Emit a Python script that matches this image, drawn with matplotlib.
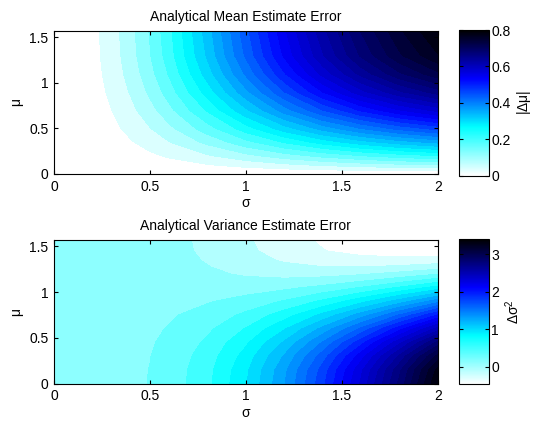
import numpy as np
import matplotlib
matplotlib.use("Agg")
from matplotlib import pyplot as plt
from matplotlib.colors import LinearSegmentedColormap, Normalize
from matplotlib.cm import ScalarMappable

plt.rcParams['font.family'] = ['Liberation Sans', 'DejaVu Sans']
plt.rcParams['font.size'] = 10

# grid (sigma across, mu up)
sigma = [0, 0.1, 0.2, 0.3, 0.4, 0.5, 0.6, 0.8, 1.0, 1.2, 1.4, 1.6, 1.8, 2.0]

# |d mu| (top panel)
mu_top = [0, 0.1, 0.2, 0.35, 0.5, 0.7, 0.9, 1.1, 1.3, 1.5708]
err_mean = [
    [0, 0, 0, 0, 0, 0, 0, 0, 0, 0, 0, 0, 0, 0],
    [0, 0.0005, 0.0018, 0.0041, 0.0071, 0.0108, 0.0152, 0.0253, 0.0363, 0.0474, 0.0577, 0.0667, 0.0740, 0.0798],
    [0, 0.0009, 0.0036, 0.0081, 0.0141, 0.0216, 0.0303, 0.0504, 0.0723, 0.0943, 0.1148, 0.1327, 0.1474, 0.1589],
    [0, 0.0016, 0.0063, 0.0140, 0.0244, 0.0373, 0.0523, 0.0869, 0.1248, 0.1628, 0.1981, 0.2290, 0.2544, 0.2743],
    [0, 0.0022, 0.0088, 0.0195, 0.0341, 0.0521, 0.0731, 0.1215, 0.1745, 0.2276, 0.2770, 0.3202, 0.3557, 0.3834],
    [0, 0.0030, 0.0118, 0.0262, 0.0458, 0.0700, 0.0982, 0.1632, 0.2345, 0.3058, 0.3722, 0.4303, 0.4779, 0.5152],
    [0, 0.0036, 0.0143, 0.0319, 0.0557, 0.0851, 0.1194, 0.1985, 0.2851, 0.3718, 0.4526, 0.5232, 0.5811, 0.6265],
    [0, 0.0041, 0.0163, 0.0363, 0.0634, 0.0969, 0.1358, 0.2258, 0.3244, 0.4231, 0.5149, 0.5952, 0.6612, 0.7128],
    [0, 0.0044, 0.0176, 0.0392, 0.0685, 0.1047, 0.1469, 0.2442, 0.3508, 0.4574, 0.5568, 0.6436, 0.7149, 0.7707],
    [0, 0.0046, 0.0183, 0.0407, 0.0711, 0.1087, 0.1524, 0.2534, 0.3640, 0.4747, 0.5778, 0.6679, 0.7419, 0.7998],
]

# d sigma^2 (bottom panel)
mu_bot = [0, 0.15, 0.3, 0.45, 0.6, 0.75, 0.9, 1.05, 1.125, 1.2, 1.275, 1.35, 1.45, 1.5708]
err_var = [
    [0, 0.0001, 0.0015, 0.0074, 0.0225, 0.0519, 0.1008, 0.2720, 0.5535, 0.9439, 1.4332, 2.0114, 2.6722, 3.4127],
    [0, 0.0001, 0.0015, 0.0072, 0.0218, 0.0502, 0.0976, 0.2635, 0.5368, 0.9165, 1.3931, 1.9572, 2.6025, 3.3260],
    [0, 0.0001, 0.0013, 0.0065, 0.0196, 0.0453, 0.0881, 0.2388, 0.4881, 0.8367, 1.2766, 1.7995, 2.3996, 3.0736],
    [0, 0.0001, 0.0011, 0.0054, 0.0162, 0.0376, 0.0733, 0.2000, 0.4119, 0.7116, 1.0940, 1.5524, 2.0815, 2.6781],
    [0, 0.0001, 0.0008, 0.0039, 0.0119, 0.0278, 0.0545, 0.1506, 0.3149, 0.5524, 0.8615, 1.2378, 1.6768, 2.1749],
    [0, 0.0000, 0.0005, 0.0023, 0.0071, 0.0167, 0.0333, 0.0950, 0.2058, 0.3734, 0.6001, 0.8840, 1.2215, 1.6088],
    [0, 0.0000, 0.0001, 0.0007, 0.0022, 0.0054, 0.0116, 0.0383, 0.0943, 0.1905, 0.3330, 0.5225, 0.7564, 1.0304],
    [0, -0.0000, -0.0002, -0.0009, -0.0025, -0.0051, -0.0086, -0.0146, -0.0096, 0.0201, 0.0841, 0.1857, 0.3229, 0.4914],
    [0, -0.0000, -0.0003, -0.0016, -0.0045, -0.0098, -0.0175, -0.0381, -0.0557, -0.0556, -0.0265, 0.0361, 0.1304, 0.2520],
    [0, -0.0000, -0.0005, -0.0022, -0.0063, -0.0139, -0.0255, -0.0589, -0.0965, -0.1227, -0.1244, -0.0965, -0.0401, 0.0400],
    [0, -0.0000, -0.0006, -0.0027, -0.0078, -0.0174, -0.0322, -0.0766, -0.1312, -0.1795, -0.2075, -0.2089, -0.1848, -0.1399],
    [0, -0.0001, -0.0006, -0.0031, -0.0091, -0.0202, -0.0376, -0.0907, -0.1589, -0.2250, -0.2738, -0.2987, -0.3003, -0.2836],
    [0, -0.0001, -0.0007, -0.0035, -0.0102, -0.0228, -0.0424, -0.1034, -0.1839, -0.2660, -0.3338, -0.3798, -0.4047, -0.4134],
    [0, -0.0001, -0.0008, -0.0036, -0.0107, -0.0239, -0.0446, -0.1089, -0.1948, -0.2839, -0.3598, -0.4151, -0.4501, -0.4698],
]

n_levels = 30
# filled bands run darker than the colorbar strip in the original
field_cmap = LinearSegmentedColormap.from_list(
    "field", [(0, "white"), (0.22, "cyan"), (0.55, "blue"), (1, "black")])
bar_cmap = LinearSegmentedColormap.from_list(
    "bar", [(0, "white"), (1 / 3, "cyan"), (2 / 3, "blue"), (1, "black")])

fig = plt.figure(figsize=(5.36, 4.21), dpi=100)

panels = [
    (mu_top, err_mean, "Analytical Mean Estimate Error", r"$\mathregular{|\Delta\mu|}$",
     [0, 0.2, 0.4, 0.6, 0.8], [0.1007, 0.5867, 0.716, 0.3397], [0.8563, 0.5827, 0.0554, 0.346]),
    (mu_bot, err_var, "Analytical Variance Estimate Error", r"$\mathregular{\Delta\sigma^2}$",
     [0, 1, 2, 3], [0.1007, 0.0886, 0.716, 0.3413], [0.8563, 0.0871, 0.0554, 0.3452]),
]

for mu, z, title, clabel, cticks, pos, cpos in panels:
    z = np.array(z)
    lev = np.linspace(z.min(), z.max(), n_levels + 1)
    cols = [field_cmap(i / n_levels) for i in range(n_levels)]

    ax = fig.add_axes(pos)
    ax.contourf(sigma, mu, z, levels=lev, colors=cols, antialiased=False)
    ax.set_xlim(0, 2)
    ax.set_ylim(0, max(mu))
    ax.set_xticks([0, 0.5, 1, 1.5, 2])
    ax.set_xticklabels(["0", "0.5", "1", "1.5", "2"])
    ax.set_yticks([0, 0.5, 1, 1.5])
    ax.set_yticklabels(["0", "0.5", "1", "1.5"])
    ax.tick_params(direction="in", top=True, right=True, length=3, width=0.8, pad=4)
    ax.set_xlabel("σ", labelpad=2)
    ax.set_ylabel("μ", labelpad=4)
    ax.set_title(title, fontsize=10, pad=7)
    for s in ax.spines.values():
        s.set_linewidth(0.8)
        s.set_zorder(5)

    cax = fig.add_axes(cpos)
    sm = ScalarMappable(norm=Normalize(z.min(), z.max()), cmap=bar_cmap)
    cb = fig.colorbar(sm, cax=cax)
    cb.set_ticks(cticks)
    cb.set_ticklabels([("%g" % t) for t in cticks])
    cb.outline.set_linewidth(0.8)
    cax.tick_params(direction="in", left=True, right=True, length=3, width=0.8, pad=2)
    cb.set_label(clabel, labelpad=3)

fig.savefig("out.png", dpi=100)
